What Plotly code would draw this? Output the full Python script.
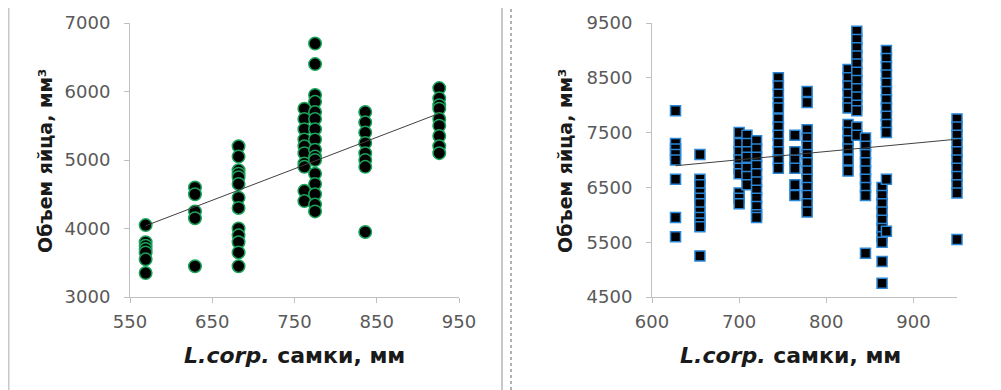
import plotly.graph_objects as go
from plotly.subplots import make_subplots

# left chart: circles, one column of points per female length
left_x = [569, 629, 682, 762, 775, 836, 926]
left_y = [
    [4050, 3800, 3750, 3700, 3650, 3550, 3350],
    [4600, 4500, 4250, 4150, 3450],
    [5200, 5050, 4850, 4800, 4750, 4650, 4450, 4300, 4000, 3900, 3800, 3650, 3450],
    [5750, 5600, 5450, 5300, 5200, 5100, 4950, 4900, 4550, 4400],
    [6700, 6400, 5950, 5850, 5700, 5600, 5450, 5300, 5150, 5050, 5000, 4800, 4650, 4500, 4350, 4250],
    [5700, 5550, 5400, 5250, 5100, 5000, 4900, 3950],
    [6050, 5900, 5800, 5750, 5600, 5500, 5350, 5200, 5100],
]
# trendline end points as drawn in the picture
left_trend_x = [569, 926]
left_trend_y = [4040, 5680]

# right chart: squares
right_x = [627, 655, 700, 709, 720, 745, 764, 778, 825, 835, 845, 864, 869, 950]
right_y = [
    [7900, 7300, 7200, 7100, 7000, 6650, 5950, 5600],
    [7100, 6650, 6550, 6400, 6300, 6200, 6050, 5950, 5850, 5780, 5250],
    [7500, 7300, 7150, 7000, 6850, 6750, 6400, 6300, 6200],
    [7450, 7300, 7150, 7050, 6850, 6700, 6550],
    [7350, 7200, 7050, 6900, 6750, 6600, 6450, 6300, 6150, 6000, 5950],
    [8500, 8350, 8200, 8050, 7950, 7750, 7600, 7450, 7300, 7150, 7000, 6850],
    [7450, 7150, 7000, 6850, 6550, 6350],
    [8250, 8050, 7550, 7400, 7250, 7100, 6950, 6800, 6650, 6500, 6350, 6200, 6050],
    [8650, 8500, 8350, 8200, 8050, 7950, 7650, 7500, 7350, 7200, 7000, 6800],
    [9350, 9200, 9050, 8900, 8750, 8600, 8450, 8300, 8150, 8000, 7900, 7600, 7450],
    [7400, 7250, 7100, 6950, 6800, 6650, 6500, 6350, 5300],
    [6500, 6350, 6200, 6050, 5900, 5750, 5600, 5500, 5150, 4750],
    [9000, 8850, 8700, 8550, 8400, 8250, 8100, 7950, 7800, 7650, 7500, 6650, 5700],
    [7750, 7600, 7450, 7300, 7150, 7000, 6850, 6700, 6550, 6400, 5550],
]
right_trend_x = [627, 950]
right_trend_y = [6895, 7380]

y_title = 'Объем яйца, мм³'
x_title = '<i>L.corp.</i> самки, мм'


def flatten(xs, ys):
    fx, fy = [], []
    for x, col in zip(xs, ys):
        fx += [x] * len(col)
        fy += col
    return fx, fy


lx, ly = flatten(left_x, left_y)
rx, ry = flatten(right_x, right_y)

# page body has an 8px margin, so the figure is 8px smaller and everything
# is positioned in page pixels minus 8
OFF = 8
W, H = 1001 - OFF, 390 - OFF


def px(s):
    return (s - OFF) / W


def py(s):
    return (H - (s - OFF)) / H


fig = make_subplots(rows=1, cols=2)

# scatter points
fig.add_trace(go.Scatter(
    x=lx, y=ly, mode='markers',
    marker=dict(symbol='circle', size=12.5, color='black',
                line=dict(color='#1aa35a', width=1.5)),
    cliponaxis=False, showlegend=False), row=1, col=1)
fig.add_trace(go.Scatter(
    x=rx, y=ry, mode='markers',
    marker=dict(symbol='square', size=10, color='black',
                line=dict(color='#2a86d6', width=1.5)),
    cliponaxis=False, showlegend=False), row=1, col=2)

# linear trendlines
fig.add_trace(go.Scatter(x=left_trend_x, y=left_trend_y, mode='lines',
                         line=dict(color='#404040', width=1),
                         showlegend=False, hoverinfo='skip'), row=1, col=1)
fig.add_trace(go.Scatter(x=right_trend_x, y=right_trend_y, mode='lines',
                         line=dict(color='#404040', width=1),
                         showlegend=False, hoverinfo='skip'), row=1, col=2)

font = 'DejaVu Sans, Verdana, sans-serif'
axis_style = dict(showline=True, linecolor='#bfbfbf', linewidth=1,
                  ticks='outside', ticklen=5, tickcolor='#bfbfbf',
                  showgrid=False, zeroline=False, automargin=False,
                  tickfont=dict(family=font, size=18, color='#595959'))

fig.update_xaxes(axis_style, ticklabelstandoff=3)
fig.update_yaxes(axis_style, ticklabelstandoff=10)

fig.update_xaxes(range=[550, 950], dtick=100, tick0=550,
                 domain=[px(130), px(459)], row=1, col=1)
fig.update_xaxes(range=[600, 950], dtick=100, tick0=600,
                 domain=[px(652), px(957)], row=1, col=2)
fig.update_yaxes(range=[3000, 7000], dtick=1000,
                 domain=[py(297), py(23)], row=1, col=1)
fig.update_yaxes(range=[4500, 9500], dtick=1000, tick0=4500,
                 domain=[py(297), py(23)], row=1, col=2)

# axis titles as annotations
ann = []
for cx, ty_x in [(294, 45), (790, 565)]:
    ann.append(dict(x=px(cx), y=py(355), xref='paper', yref='paper',
                    xanchor='center', yanchor='middle',
                    text='<b>' + x_title + '</b>', showarrow=False,
                    font=dict(family=font, size=22, color='#1a1a1a')))
    ann.append(dict(x=px(ty_x), y=py(161), xref='paper', yref='paper',
                    xanchor='center', yanchor='middle',
                    text='<b>' + y_title + '</b>', showarrow=False, textangle=-90,
                    font=dict(family=font, size=19, color='#1a1a1a')))

# chart frame borders
shapes = []
for bx, dash, col in [(8.5, 'solid', '#c8c8c8'), (502, 'solid', '#c8c8c8'),
                      (511, 'dot', '#b0b0b0'), (999, 'solid', '#d0d0d0')]:
    shapes.append(dict(type='line', xref='paper', yref='paper',
                       x0=px(bx), x1=px(bx), y0=0, y1=1,
                       line=dict(color=col, width=2, dash=dash)))

fig.update_layout(
    width=W, height=H,
    margin=dict(l=0, r=0, t=0, b=0, pad=0, autoexpand=False),
    paper_bgcolor='white', plot_bgcolor='white',
    annotations=ann, shapes=shapes,
)

fig.write_html('out.html')
